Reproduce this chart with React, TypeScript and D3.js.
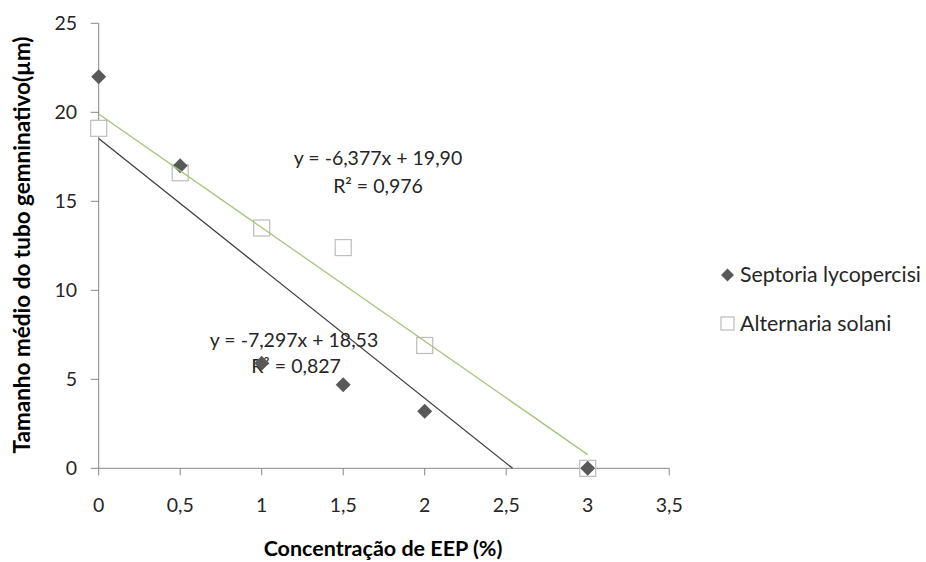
import React from "react";
import * as d3 from "d3";

const xValues = [0, 0.5, 1, 1.5, 2, 3];
const septoria = [22, 17, 5.9, 4.7, 3.2, 0];
const alternaria = [19.1, 16.6, 13.5, 12.4, 6.9, 0];
const septoriaTrend = { slope: -7.297, intercept: 18.53, r2: "0,827" };
const alternariaTrend = { slope: -6.377, intercept: 19.9, r2: "0,976" };
const xTicks = [0, 0.5, 1, 1.5, 2, 2.5, 3, 3.5];
const yTicks = [0, 5, 10, 15, 20, 25];
const seriesNames = ["Septoria lycopercisi", "Alternaria solani"];

const W = 926;
const H = 562;
const FONT = "Lato, 'Open Sans', sans-serif";
const AXIS = "#868686";
const DIAMOND = "#595959";
const SQUARE = "#bcbcbc";
const GREEN = "#a6c47c";
const DARK = "#3f3f3f";

const fmt = (v: number) => String(v).replace(".", ",");

export default function App() {
  const x = d3.scaleLinear().domain([0, 3.5]).range([98.7, 669.2]);
  const y = d3.scaleLinear().domain([0, 25]).range([468.3, 23.3]);
  const line = d3
    .line<[number, number]>()
    .x((d) => x(d[0]))
    .y((d) => y(d[1]));

  const altEnd = 3;
  const altPts: [number, number][] = [
    [0, alternariaTrend.intercept],
    [altEnd, alternariaTrend.intercept + alternariaTrend.slope * altEnd],
  ];
  const sepEnd = -septoriaTrend.intercept / septoriaTrend.slope;
  const sepPts: [number, number][] = [
    [0, septoriaTrend.intercept],
    [sepEnd, 0],
  ];

  const diamond = (cx: number, cy: number, r: number) =>
    `M${cx},${cy - r}L${cx + r},${cy}L${cx},${cy + r}L${cx - r},${cy}Z`;

  const eqStyle = { fontFamily: FONT, fontSize: 19.5, fill: "#262626" };
  const tickStyle = { fontFamily: FONT, fontSize: 19.5, fill: "#262626" };
  const legStyle = { fontFamily: FONT, fontSize: 21.3, fill: "#262626" };

  return (
    <svg
      width={W}
      height={H}
      style={{ position: "absolute", left: 0, top: 0, background: "#fff" }}
    >
      <rect width={W} height={H} fill="#fff" />
      {/* axes */}
      <line x1={x(0)} x2={x(0)} y1={y(25)} y2={y(0)} stroke={AXIS} strokeWidth={1} />
      <line x1={x(0)} x2={x(3.5)} y1={y(0)} y2={y(0)} stroke={AXIS} strokeWidth={1} />
      {yTicks.map((t) => (
        <g key={"y" + t}>
          <line x1={x(0) - 8} x2={x(0)} y1={y(t)} y2={y(t)} stroke={AXIS} />
          <text x={77} y={y(t)} dy="0.35em" textAnchor="end" style={tickStyle}>
            {fmt(t)}
          </text>
        </g>
      ))}
      {xTicks.map((t) => (
        <g key={"x" + t}>
          <line x1={x(t)} x2={x(t)} y1={y(0)} y2={y(0) + 7} stroke={AXIS} />
          <text x={x(t)} y={512} textAnchor="middle" style={tickStyle}>
            {fmt(t)}
          </text>
        </g>
      ))}
      {/* axis titles */}
      <text
        transform={`translate(30,245) rotate(-90)`}
        textAnchor="middle"
        style={{ fontFamily: FONT, fontSize: 22.5, fontWeight: 700, fill: "#000" }}
      >
        Tamanho médio do tubo gemninativo(µm)
      </text>
      <text
        x={383}
        y={556}
        textAnchor="middle"
        style={{ fontFamily: FONT, fontSize: 21.5, fontWeight: 700, fill: "#000" }}
      >
        Concentração de EEP (%)
      </text>
      {/* trend labels */}
      <text x={378} y={165} textAnchor="middle" style={eqStyle}>
        y = -6,377x + 19,90
      </text>
      <text x={378} y={193} textAnchor="middle" style={eqStyle}>
        R² = {alternariaTrend.r2}
      </text>
      <text x={294} y={347} textAnchor="middle" style={eqStyle}>
        y = -7,297x + 18,53
      </text>
      <text x={296} y={373} textAnchor="middle" style={eqStyle}>
        R² = {septoriaTrend.r2}
      </text>
      {/* markers */}
      {xValues.map((xv, i) => (
        <rect
          key={"a" + i}
          x={x(xv) - 8}
          y={y(alternaria[i]) - 8}
          width={16}
          height={16}
          fill="#fff"
          stroke={SQUARE}
          strokeWidth={1.2}
        />
      ))}
      {xValues.map((xv, i) => (
        <path key={"s" + i} d={diamond(x(xv), y(septoria[i]), 7.5)} fill={DIAMOND} />
      ))}
      {/* trendlines */}
      <path d={line(altPts) || ""} stroke={GREEN} strokeWidth={1.3} fill="none" />
      <path d={line(sepPts) || ""} stroke={DARK} strokeWidth={1.3} fill="none" />
      {/* legend */}
      <path d={diamond(727.5, 275, 6.5)} fill={DIAMOND} />
      <text x={740} y={282} style={legStyle}>
        {seriesNames[0]}
      </text>
      <rect x={721} y={317} width={13} height={13} fill="#fff" stroke={SQUARE} strokeWidth={1.2} />
      <text x={740} y={331} style={legStyle}>
        {seriesNames[1]}
      </text>
    </svg>
  );
}
